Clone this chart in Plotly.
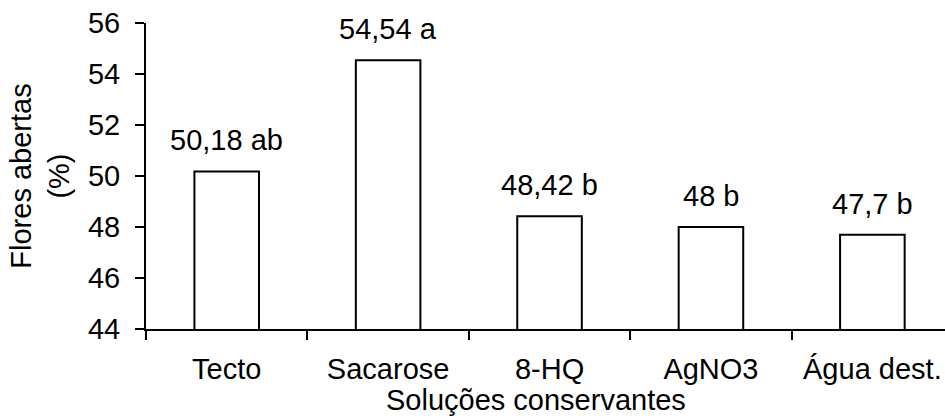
import plotly.graph_objects as go

categories = ["Tecto", "Sacarose", "8-HQ", "AgNO3", "Água dest."]
values = [50.18, 54.54, 48.42, 48.0, 47.7]
labels = ["50,18 ab", "54,54 a", "48,42 b", "48 b", "47,7 b"]
y_ticks = [44, 46, 48, 50, 52, 54, 56]
x_title = "Soluções conservantes"
y_title = "Flores abertas<br>(%)"

FONT = "Liberation Sans, Arial, sans-serif"
FS = 29

fig = go.Figure()
fig.add_trace(go.Bar(
    x=categories, y=values, width=0.4,
    marker=dict(color="white", line=dict(color="black", width=2)),
    showlegend=False, hoverinfo="skip",
))

for c, v, t in zip(categories, values, labels):
    fig.add_annotation(x=c, y=v, text=t, showarrow=False, xref="x", yref="y",
                       yanchor="bottom", yshift=13,
                       font=dict(family=FONT, size=FS, color="black"))

fig.add_annotation(x=0.488, y=0, xref="paper", yref="paper", text=x_title,
                   showarrow=False, xanchor="center", yanchor="top", yshift=-53,
                   font=dict(family=FONT, size=FS, color="black"))

fig.update_layout(
    width=945, height=416,
    margin=dict(l=146, r=0, t=23, b=87, autoexpand=False),
    paper_bgcolor="white", plot_bgcolor="white",
    font=dict(family=FONT, size=FS, color="black"),
)
fig.update_xaxes(
    type="category", range=[-0.5, 4.45],
    showline=True, linecolor="black", linewidth=2,
    ticks="outside", tickson="boundaries", ticklen=9, tickwidth=2, tickcolor="black",
    ticklabelstandoff=13, ticklabeloverflow="allow",
    showgrid=False, zeroline=False,
    automargin=False,
)
fig.update_yaxes(
    range=[44, 56], tickvals=y_ticks, ticktext=[str(t) for t in y_ticks],
    showline=True, linecolor="black", linewidth=2,
    ticks="outside", ticklen=9, tickwidth=2, tickcolor="black",
    ticklabelstandoff=9, ticklabeloverflow="allow",
    showgrid=False, zeroline=False,
    title=dict(text=y_title, standoff=10, font=dict(size=FS)),
    automargin=False,
)

fig.write_html(
    "out.html",
    config={"displayModeBar": False},
    post_script="document.body.style.margin='0';document.body.style.overflow='hidden';",
)
